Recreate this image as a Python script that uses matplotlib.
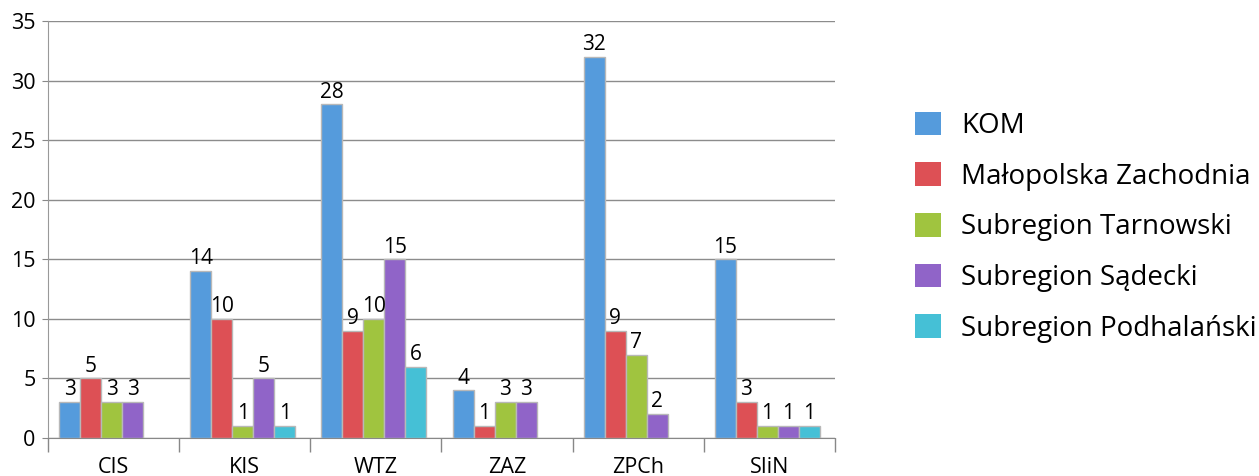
import numpy as np
import matplotlib.pyplot as plt
from matplotlib.patches import Patch

plt.rcParams["font.family"] = ["Open Sans", "DejaVu Sans"]

categories = ["CIS", "KIS", "WTZ", "ZAZ", "ZPCh", "SIiN"]
series_names = ["KOM", "Małopolska Zachodnia", "Subregion Tarnowski",
                "Subregion Sądecki", "Subregion Podhalański"]
kom = [3, 14, 28, 4, 32, 15]
malopolska = [5, 10, 9, 1, 9, 3]
tarnowski = [3, 1, 10, 3, 7, 1]
sadecki = [3, 5, 15, 3, 2, 1]
podhalanski = [0, 1, 6, 0, 0, 1]
yticks = [0, 5, 10, 15, 20, 25, 30, 35]

colors = ["#559BDC", "#DD5055", "#A0C43F", "#9064C8", "#45C0D6"]


def main():
    fig = plt.figure(figsize=(12.59, 4.76), dpi=100)
    ax = fig.add_axes([0.0381, 0.0798, 0.6251, 0.8761])

    data = [kom, malopolska, tarnowski, sadecki, podhalanski]
    x = np.arange(len(categories))
    w = 0.16
    for i, (vals, name, col) in enumerate(zip(data, series_names, colors)):
        pos = x - 0.4 + w * (i + 0.5) - 0.015
        vals = np.array(vals, dtype=float)
        shown = vals > 0
        ax.bar(pos[shown], vals[shown], width=w, color=col,
               edgecolor="#b8b8b8", linewidth=1, zorder=3, label=name)
        for p, v in zip(pos[shown], vals[shown]):
            ax.text(p, v + 0.15, f"{int(v)}", ha="center", va="bottom",
                    fontsize=15, color="black", zorder=4)

    ax.set_xlim(-0.5, len(categories) - 0.5)
    ax.set_ylim(0, 35)
    ax.set_yticks(yticks)
    ax.tick_params(axis="y", length=4, color="#888888", labelsize=15.5, pad=5)
    ax.yaxis.grid(True, color="#8c8c8c", lw=1, zorder=0)

    ax.set_xticks(x)
    ax.set_xticklabels(categories, fontsize=15.5)
    ax.tick_params(axis="x", which="major", length=0, pad=14)
    ax.set_xticks(np.arange(-0.5, len(categories)), minor=True)
    ax.tick_params(axis="x", which="minor", length=10, color="#888888", width=1)

    for s in ["top", "right"]:
        ax.spines[s].set_visible(False)
    ax.spines["left"].set_color("#999999")
    ax.spines["bottom"].set_color("#888888")

    # legend squares have no outline in the original
    handles = [Patch(facecolor=c, edgecolor="none") for c in colors]
    fig.legend(handles=handles, labels=series_names, loc="upper left",
               bbox_to_anchor=(0.718, 0.789), frameon=False, fontsize=20,
               handlelength=0.94, handleheight=0.94, handletextpad=0.72,
               labelspacing=0.8, borderaxespad=0)

    fig.savefig("out.png", dpi=100)
    plt.close(fig)


if __name__ == "__main__":
    main()
